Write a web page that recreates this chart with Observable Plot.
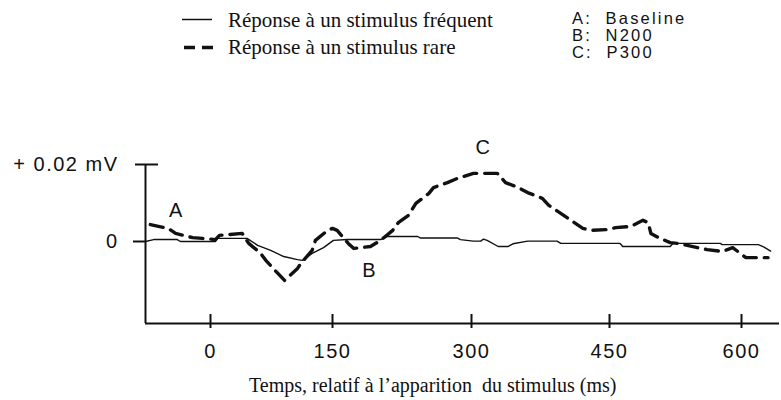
<!DOCTYPE html>
<html>
<head>
<meta charset="utf-8">
<script src="https://cdn.jsdelivr.net/npm/d3@7"></script>
<script src="https://cdn.jsdelivr.net/npm/@observablehq/plot@0.6"></script>
<style>
  body { margin: 0; background: #fff; }
  #wrap { position: relative; width: 781px; height: 400px; background: #fff; overflow: hidden; color: #111; }
  #legend { position: relative; height: 75px; }
  .serif { font-family: "Liberation Serif", "Times New Roman", serif; font-size: 21px; line-height: 21px; position: absolute; white-space: pre; }
  .sans { font-family: "Liberation Sans", Arial, sans-serif; font-size: 16.5px; line-height: 16px; letter-spacing: 2.2px; position: absolute; white-space: pre; }
  #caption { height: 30px; line-height: 30px; font-family: "Liberation Serif", "Times New Roman", serif; font-size: 20px; white-space: pre; padding-left: 249px; }
</style>
</head>
<body>
<div id="wrap">
  <div id="legend"></div>
  <div id="chart"></div>
  <div id="caption"></div>
</div>
<script>
// ---- data ----
const seriesNames = ["Réponse à un stimulus fréquent", "Réponse à un stimulus rare"];
const annotationLegend = ["A:  Baseline", "B:  N200", "C:  P300"];
const xTitle = "Temps, relatif à l\u2019apparition  du stimulus (ms)";

// Time (ms) and amplitude (mV) for the frequent-stimulus response (solid)
const freqTime = [-80, -70, -41, -37, 6, 9, 45, 58, 74, 90, 107, 113, 125, 139, 151, 166, 202, 209, 242, 245, 285, 288, 302, 310, 313, 317, 329, 340, 345, 361, 393, 397, 462, 465, 519, 522, 576, 578, 619, 625, 633];
const freqVal  = [0, 0.0005, 0.0005, 0, 0, 0.0008, 0.0008, -0.001, -0.0023, -0.0039, -0.0047, -0.0049, -0.0031, -0.0016, 0.0003, 0.0005, 0.0005, 0.0013, 0.0013, 0.0009, 0.0009, 0.0005, 0.0001, 0.0001, 0.0006, 0.0003, -0.0013, -0.0013, -0.0006, 0.0001, 0.0001, -0.0005, -0.0005, -0.0013, -0.0013, -0.0005, -0.0005, -0.0008, -0.0008, -0.0014, -0.0025];

// Time (ms) and amplitude (mV) for the rare-stimulus response (dashed)
const rareTime = [-74, -52, -43, -22, -10, 6, 11, 39, 47, 61, 68, 82, 91, 107, 111, 125, 129, 144, 150, 155, 167, 173, 191, 202, 215, 221, 232, 240, 254, 259, 274, 285, 302, 328, 337, 351, 361, 377, 384, 397, 405, 421, 430, 448, 457, 474, 488, 494, 497, 506, 519, 528, 550, 561, 578, 590, 605, 630];
const rareVal  = [0.0044, 0.0034, 0.0021, 0.001, 0.0008, 0.0005, 0.0016, 0.0021, -0.0005, -0.0029, -0.0049, -0.0081, -0.0101, -0.007, -0.0057, -0.0023, 0.0003, 0.0029, 0.0034, 0.0029, -0.0005, -0.0018, -0.0013, 0.0003, 0.0029, 0.0049, 0.0068, 0.0099, 0.0125, 0.014, 0.0153, 0.0164, 0.0177, 0.0177, 0.0153, 0.014, 0.0127, 0.0112, 0.0094, 0.0073, 0.006, 0.0034, 0.0029, 0.0031, 0.0036, 0.0039, 0.0055, 0.0049, 0.0021, 0.001, -0.0003, -0.0005, -0.0016, -0.0021, -0.0026, -0.0016, -0.0042, -0.0042];

// Component annotations
const annotLabels = ["A", "B", "C"];
const annotTime   = [-42, 190, 313];
const annotVal    = [0.0081, -0.0075, 0.0245];

// Axis ticks
const xTicks = [0, 150, 300, 450, 600];
const yTicks = [0, 0.02];
const yTickLabels = ["0", "+ 0.02 mV"];
const xDomain = [-80, 643];
const yDomain = [-0.0213, 0.02];

// ---- build tables ----
const freq = freqTime.map((t, i) => ({t, v: freqVal[i]}));
const rare = rareTime.map((t, i) => ({t, v: rareVal[i]}));
const annots = annotLabels.map((s, i) => ({s, t: annotTime[i], v: annotVal[i]}));

// ---- legend (HTML above the chart) ----
const legend = document.getElementById("legend");
legend.innerHTML = `
  <svg width="240" height="75" style="position:absolute;left:0;top:0">
    <line x1="182" x2="212" y1="19.5" y2="19.5" stroke="#111" stroke-width="1.5"/>
    <line x1="184" x2="213" y1="47.5" y2="47.5" stroke="#111" stroke-width="3.5" stroke-dasharray="11,7"/>
  </svg>
  <div class="serif" style="left:228px;top:10px">${seriesNames[0]}</div>
  <div class="serif" style="left:228px;top:37px">${seriesNames[1]}</div>
  <div class="sans" style="left:572px;top:10px">${annotationLegend[0]}</div>
  <div class="sans" style="left:572px;top:27px">${annotationLegend[1]}</div>
  <div class="sans" style="left:572px;top:44px">${annotationLegend[2]}</div>`;

document.getElementById("caption").textContent = xTitle;

// ---- chart ----
const chart = Plot.plot({
  width: 781,
  height: 295,
  marginLeft: 145,
  marginRight: 2,
  marginTop: 89,
  marginBottom: 47,
  style: {fontFamily: "'Liberation Sans', Arial, sans-serif", fontSize: "20px", color: "#111", background: "#fff", overflow: "visible", letterSpacing: "1.5px"},
  x: {type: "linear", domain: [xDomain[0], 0, 150, 300, 450, 600, xDomain[1]], range: [145, 210, 332, 471, 609, 741, 779]},
  y: {domain: yDomain, range: [248, 89]},
  marks: [
    Plot.ruleY([yDomain[0]], {stroke: "#111", strokeWidth: 2}),
    Plot.ruleX([xDomain[0]], {stroke: "#111", strokeWidth: 2}),
    Plot.axisX(xTicks, {tickSize: 14, dy: -9, tickPadding: 15, strokeWidth: 2, label: null, tickFormat: d => String(d)}),
    Plot.axisY([yTicks[0]], {tickSize: 12, tickPadding: 15, strokeWidth: 2, label: null, tickFormat: d => yTickLabels[yTicks.indexOf(d)]}),
    Plot.axisY([yTicks[1]], {tickSize: 23, dx: 13, tickPadding: 17, strokeWidth: 2, label: null, tickFormat: d => yTickLabels[yTicks.indexOf(d)]}),
    Plot.line(freq, {x: "t", y: "v", stroke: "#111", strokeWidth: 1.4}),
    Plot.line(rare, {x: "t", y: "v", stroke: "#111", strokeWidth: 3.4, strokeDasharray: "13,8"}),
    Plot.text(annots, {x: "t", y: "v", text: "s", fontSize: 20})
  ]
});
document.getElementById("chart").appendChild(chart);
</script>
</body>
</html>
